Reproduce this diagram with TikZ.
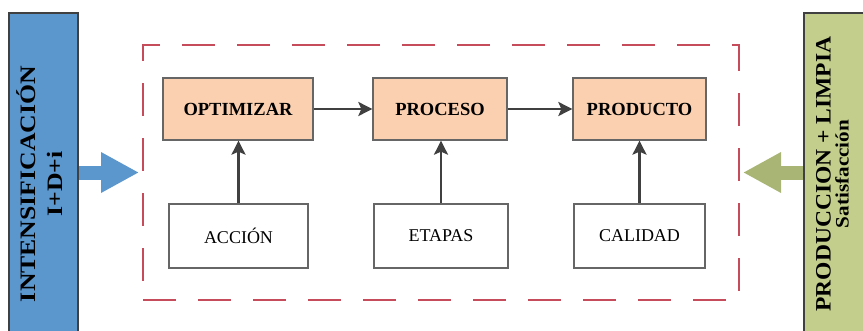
\documentclass[tikz,border=0pt]{standalone}
\usepackage{fontspec}
\setmainfont{Liberation Serif}
\usepackage{graphicx}
\usepackage{tikz}
\usetikzlibrary{arrows.meta}
\definecolor{azulbox}{RGB}{91,150,205}
\definecolor{verdebox}{RGB}{196,206,140}
\definecolor{verdearrow}{RGB}{168,181,116}
\definecolor{naranja}{RGB}{250,208,176}
\definecolor{rojodash}{RGB}{198,76,92}
\definecolor{gris}{RGB}{64,64,64}

\begin{document}
\begin{tikzpicture}[x=1pt,y=-1pt]

  \tikzstyle{sidebox}=[draw=gris,line width=1.5pt,inner sep=0pt,minimum width=69pt,minimum height=322pt]
  \tikzstyle{mainbox}=[draw=gris!80,line width=1.3pt,fill=naranja,minimum height=62pt,inner sep=0pt,font=\fontsize{18.5}{20}\selectfont\bfseries]
  \tikzstyle{inbox}=[draw=gris!80,line width=1.3pt,fill=white,minimum height=64pt,inner sep=0pt,font=\fontsize{18}{20}\selectfont]
  \tikzstyle{flecha}=[draw=gris,line width=2.5pt,-{Stealth[length=14pt,width=14pt,inset=3pt]}]
  \tikzstyle{bigarrow}=[line width=14pt,-{Triangle[length=38pt,width=38pt]}]

  \useasboundingbox (0,0) rectangle (863,330);

  \node[draw=rojodash,line width=2pt,dash pattern=on 33pt off 22pt,minimum width=596pt,minimum height=255pt] (frame) at (441,172.5) {};

  \node[sidebox,fill=azulbox,minimum height=342pt] (intens) at (43.5,184) {\rotatebox{90}{\fontsize{22}{29}\selectfont\bfseries\scalebox{1.17}[1]{\begin{tabular}{@{}c@{}}INTENSIFICACIÓN\\[-2pt] I+D+i\end{tabular}}}};
  \node[sidebox,fill=verdebox,minimum width=62pt] (prod) at (835,174) {\rotatebox{90}{\fontsize{22}{23}\selectfont\bfseries\scalebox{1.07}[1]{\begin{tabular}{@{}c@{}}PRODUCCION + LIMPIA\\[-5pt] {\fontsize{19}{20}\selectfont\scalebox{1.04}[1]{Satisfacción}}\end{tabular}}}};

  \node[mainbox,minimum width=150pt] (opt) at (238,109) {OPTIMIZAR};
  \node[mainbox,minimum width=134pt] (proc) at (440,109) {PROCESO};
  \node[mainbox,minimum width=133pt] (produ) at (639.5,109) {PRODUCTO};

  \node[inbox,minimum width=139pt] (acc) at (238.5,236) {ACCIÓN};
  \node[inbox,minimum width=134pt] (eta) at (441,236) {ETAPAS};
  \node[inbox,minimum width=131pt] (cal) at (639.5,236) {CALIDAD};

  \draw[flecha] (opt) -- (proc);
  \draw[flecha] (proc) -- (produ);
  \draw[flecha] (acc.north) -- (acc.north |- opt.south);
  \draw[flecha] (eta.north) -- (eta.north |- proc.south);
  \draw[flecha] (cal.north) -- (cal.north |- produ.south);

  \draw[bigarrow,draw=azulbox,fill=azulbox] (intens.east |- frame.west) -- ([xshift=-3pt]frame.west);
  \draw[bigarrow,draw=verdearrow,fill=verdearrow] (prod.west |- frame.east) -- ([xshift=3pt]frame.east);

\end{tikzpicture}
\end{document}
